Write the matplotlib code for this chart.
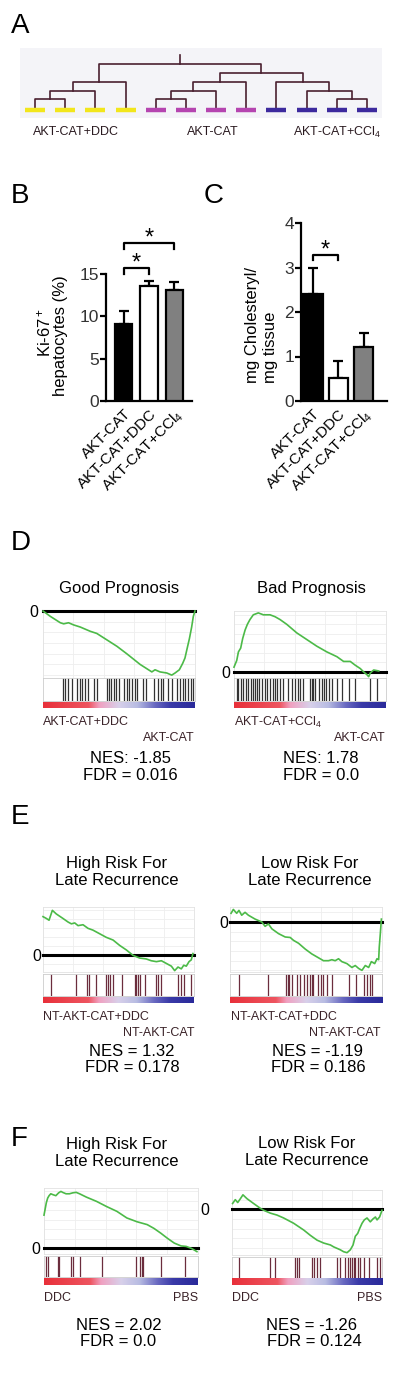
import numpy as np
import matplotlib
matplotlib.use("Agg")
import matplotlib.pyplot as plt
from matplotlib.colors import LinearSegmentedColormap
from matplotlib.ticker import MultipleLocator
from matplotlib.patches import Rectangle

plt.rcParams['font.family'] = ['Liberation Sans', 'DejaVu Sans']
plt.rcParams['mathtext.fontset'] = 'custom'
plt.rcParams['mathtext.rm'] = 'Liberation Sans'
plt.rcParams['mathtext.it'] = 'Liberation Sans:italic'
plt.rcParams['mathtext.bf'] = 'Liberation Sans:bold'

# ---------------- DATA ----------------
# Panel A: hierarchical clustering (leaves 0..11, new nodes numbered from 12)
leaf_group = ['AKT-CAT+DDC'] * 4 + ['AKT-CAT'] * 4 + ['AKT-CAT+CCl$_4$'] * 4
group_names = ['AKT-CAT+DDC', 'AKT-CAT', 'AKT-CAT+CCl$_4$']
merges = [(0, 1, 1.1), (12, 2, 1.9), (13, 3, 2.8),
          (4, 5, 1.1), (15, 6, 1.9), (16, 7, 2.8),
          (10, 11, 1.1), (9, 18, 1.9), (8, 19, 2.8),
          (17, 20, 3.7), (14, 21, 4.6)]

# Panel B / C: bar charts
bar_groups = ['AKT-CAT', 'AKT-CAT+DDC', 'AKT-CAT+CCl$_4$']
ki67_mean = [9.1, 13.6, 13.1]
ki67_sem = [1.5, 0.6, 1.0]
ki67_sig = [(0, 1), (0, 2)]
chol_mean = [2.4, 0.52, 1.22]
chol_sem = [0.6, 0.38, 0.31]
chol_sig = [(0, 1)]

# Panel D: Good prognosis (AKT-CAT+DDC vs AKT-CAT)
gp_rank = [0, 4.8, 11.4, 13.6, 16.8, 20.1, 24.5, 27.8, 31.1, 35.4, 42.0, 48.6, 55.1, 59.5, 63.9,
           68.3, 71.6, 73.7, 77.0, 81.4, 84.7, 86.9, 89.7, 91.9, 93.4, 95.0, 96.3, 97.8, 98.9, 100]
gp_es = [0, -0.05, -0.11, -0.12, -0.11, -0.13, -0.15, -0.17, -0.19, -0.21, -0.27, -0.33, -0.40, -0.45,
         -0.50, -0.54, -0.57, -0.55, -0.57, -0.58, -0.60, -0.58, -0.55, -0.49, -0.44, -0.34, -0.26,
         -0.15, -0.05, 0]
gp_hits = [13.1, 14.7, 16.2, 19.0, 22.3, 24.1, 25.6, 27.8, 29.3, 33.3, 35.4, 42.0, 43.1, 44.6, 46.4,
           48.1, 49.7, 53.4, 55.1, 56.9, 58.4, 60.6, 61.7, 66.1, 67.8, 73.1, 75.9, 77.5, 79.2, 82.5,
           84.7, 88.0, 90.2, 91.9, 93.4, 95.6, 97.2, 98.5]

# Panel D: Bad prognosis (AKT-CAT+CCl4 vs AKT-CAT)
bp_rank = [0, 1.8, 2.9, 4.4, 5.7, 7.3, 8.8, 10.5, 12.7, 16.0, 19.3, 23.7, 27.0, 30.3, 34.7, 41.3,
           47.9, 54.5, 61.1, 67.7, 72.1, 76.5, 79.8, 83.1, 85.3, 87.5, 88.6, 89.7, 91.9, 95.2]
bp_es = [0.05, 0.12, 0.21, 0.25, 0.35, 0.44, 0.50, 0.55, 0.60, 0.62, 0.60, 0.60, 0.58, 0.55, 0.50,
         0.41, 0.34, 0.27, 0.21, 0.16, 0.11, 0.11, 0.07, 0.035, 0.0, -0.03, -0.05, -0.01, 0.02, 0.01]
bp_hits = [1.8, 2.9, 4.4, 6.2, 7.9, 9.5, 11.0, 12.3, 13.8, 15.4, 16.7, 18.2, 20.4, 21.5, 23.7, 25.5,
           27.0, 28.6, 30.3, 32.5, 35.8, 38.0, 40.2, 42.4, 43.5, 45.7, 50.1, 51.2, 52.3, 53.4, 55.6,
           57.8, 58.9, 60.7, 62.2, 64.4, 67.7, 71.0, 75.4, 79.8, 89.2, 94.1]

# Panel E: High risk for late recurrence (NT-AKT-CAT+DDC vs NT-AKT-CAT)
eh_rank = [0, 2.2, 4.0, 6.2, 8.8, 13.2, 16.6, 18.8, 21.0, 23.2, 26.5, 29.8, 33.1, 37.5, 41.9, 46.4,
           50.8, 55.2, 59.6, 64.0, 68.4, 71.7, 75.1, 78.4, 81.7, 85.0, 87.2, 89.4, 91.6, 93.2, 94.9,
           96.7, 98.2, 99.3]
eh_es = [0.43, 0.41, 0.39, 0.50, 0.46, 0.41, 0.37, 0.35, 0.36, 0.33, 0.34, 0.30, 0.28, 0.24, 0.20,
         0.17, 0.11, 0.06, 0.0, -0.03, -0.04, -0.06, -0.07, -0.06, -0.09, -0.12, -0.17, -0.13, -0.15,
         -0.11, -0.12, -0.07, -0.05, 0.02]
eh_hits = [5.5, 22.1, 29.1, 30.5, 35.3, 41.9, 43.0, 44.2, 46.4, 52.5, 60.7, 61.8, 62.9, 64.5, 67.3,
           74.6, 76.2, 78.4, 89.4, 91.6, 93.2, 98.2]

# Panel E: Low risk for late recurrence
el_rank = [0.7, 2.2, 4.4, 5.9, 7.7, 9.9, 12.1, 16.5, 20.9, 23.1, 25.3, 27.5, 31.9, 36.3, 39.6, 41.8,
           45.1, 49.5, 53.8, 58.2, 61.5, 64.8, 67.0, 69.2, 71.4, 73.6, 76.9, 80.2, 82.4, 84.6, 86.8,
           89.0, 91.2, 93.0, 95.2, 96.7, 97.8, 98.2, 98.9, 99.6]
el_es = [0.09, 0.13, 0.09, 0.12, 0.07, 0.10, 0.07, 0.03, 0.0, -0.045, -0.02, -0.07, -0.12, -0.155,
         -0.16, -0.19, -0.22, -0.28, -0.33, -0.37, -0.40, -0.40, -0.39, -0.40, -0.38, -0.41, -0.43,
         -0.47, -0.45, -0.48, -0.50, -0.45, -0.47, -0.41, -0.43, -0.38, -0.39, -0.26, -0.12, 0.03]
el_hits = [5.9, 24.8, 36.7, 38.0, 38.9, 41.1, 44.0, 46.2, 48.4, 50.5, 52.7, 53.8, 54.9, 57.8, 60.0,
           61.5, 63.7, 67.0, 78.0, 82.9, 87.9, 90.1, 92.3, 93.4]

# Panel F: High risk for late recurrence (DDC vs PBS)
fh_rank = [0, 0.7, 1.5, 2.4, 3.3, 4.4, 5.9, 7.7, 9.5, 11.0, 12.1, 14.3, 16.5, 18.7, 20.9, 23.1, 27.5,
           34.1, 40.7, 47.3, 53.8, 60.4, 67.0, 71.4, 75.8, 80.2, 84.6, 89.0, 92.3, 95.6, 97.8, 99.3]
fh_es = [0.35, 0.41, 0.48, 0.53, 0.555, 0.575, 0.565, 0.555, 0.585, 0.60, 0.59, 0.575, 0.575, 0.585,
         0.59, 0.575, 0.54, 0.495, 0.44, 0.39, 0.32, 0.28, 0.25, 0.21, 0.16, 0.105, 0.055, 0.025,
         0.02, 0.0, -0.02, -0.035]
fh_hits = [1.5, 2.6, 8.8, 9.9, 17.6, 18.7, 23.1, 37.4, 60.0, 62.6, 63.7, 64.4, 75.8, 91.6]

# Panel F: Low risk for late recurrence (DDC vs PBS)
fl_rank = [0.4, 2.2, 3.8, 5.6, 7.3, 10.0, 14.4, 18.9, 21.1, 25.6, 30.0, 34.4, 41.1, 47.8, 52.2, 56.7,
           61.1, 65.6, 67.8, 70.0, 72.2, 74.4, 76.7, 78.9, 80.7, 82.2, 83.8, 85.1, 86.7, 88.2, 90.0,
           92.2, 94.0, 95.6, 96.7, 98.4, 100]
fl_es = [0.06, 0.10, 0.07, 0.11, 0.15, 0.11, 0.06, 0.01, -0.01, -0.04, -0.06, -0.09, -0.145, -0.215,
         -0.27, -0.32, -0.35, -0.37, -0.39, -0.405, -0.42, -0.44, -0.45, -0.42, -0.37, -0.28, -0.25,
         -0.20, -0.145, -0.11, -0.09, -0.13, -0.10, -0.08, -0.11, -0.08, -0.01]
fl_hits = [4.4, 25.6, 28.9, 42.2, 43.3, 44.4, 53.3, 54.9, 56.7, 58.4, 70.0, 72.2, 75.6, 77.1, 78.4,
           80.0, 81.1, 82.2, 83.8, 85.6, 87.8, 91.1, 96.7, 98.9]

# ---------------- FIGURE ----------------
W, H = 400, 1382
fig = plt.figure(figsize=(W / 100, H / 100), dpi=100)


def add_ax(x0, y0, x1, y1):
    return fig.add_axes([x0 / W, 1 - y1 / H, (x1 - x0) / W, (y1 - y0) / H])


def put(x, y, s, size=9, ha='center', va='center', **kw):
    fig.text(x / W, 1 - y / H, s, fontsize=size, ha=ha, va=va, **kw)


for letter, (lx, ly) in {'A': (11, 26), 'B': (11, 196), 'C': (204, 196),
                         'D': (11, 543), 'E': (11, 817), 'F': (11, 1139)}.items():
    put(lx, ly, letter, size=20, ha='left')

# ---- Panel A ----
group_color = {'AKT-CAT+DDC': '#f2e61c', 'AKT-CAT': '#b545b0', 'AKT-CAT+CCl$_4$': '#3d2a9e'}
label_x = [1.35, 5.9, 10.0]
axA = add_ax(20, 48, 382, 140)
axA.set_xlim(-0.5, 11.5)
axA.set_ylim(-3.0, 6.2)
axA.axis('off')
axA.add_patch(Rectangle((-0.5, -0.8), 12, 7.0, color='#f4f4f8', zorder=0, lw=0))
n_leaf = len(leaf_group)
pos = {i: float(i) for i in range(n_leaf)}
hgt = {i: 0.0 for i in range(n_leaf)}
for k, (a, b, h) in enumerate(merges):
    axA.plot([pos[a], pos[a], pos[b], pos[b]], [hgt[a], h, h, hgt[b]],
             color='#4a2030', lw=1.2, zorder=2)
    pos[n_leaf + k] = (pos[a] + pos[b]) / 2
    hgt[n_leaf + k] = h
root = n_leaf + len(merges) - 1
axA.plot([pos[root]] * 2, [hgt[root], hgt[root] + 0.9], color='#4a2030', lw=1.2)
for i, g in enumerate(leaf_group):
    axA.plot([i - 0.33, i + 0.33], [0, 0], color=group_color[g], lw=3.2,
             solid_capstyle='butt', zorder=3)
for g, lxv in zip(group_names, label_x):
    axA.text(lxv, -2.2, g, ha='center', va='center', fontsize=9, color='#2a1a20')


# ---- Panels B and C ----
def bar_panel(ax, means, errs, width, ylim, yticks, sig, sig_levels, drop):
    xs = np.arange(len(means))
    ax.bar(xs, means, width=width, color=['black', 'white', '#808080'],
           edgecolor='black', linewidth=1.6, zorder=3)
    ax.errorbar(xs, means, yerr=[np.zeros(len(errs)), errs], fmt='none', ecolor='black',
                elinewidth=1.6, capsize=3.5, capthick=1.6, zorder=2)
    ax.set_ylim(*ylim)
    ax.set_yticks(yticks)
    ax.set_xticks(xs)
    ax.set_xticklabels(bar_groups, rotation=45, ha='right', rotation_mode='anchor', fontsize=11)
    ax.tick_params(axis='x', length=0, pad=4)
    ax.tick_params(axis='y', length=4, width=1.6, labelsize=12.5, labelcolor='#333333', pad=1)
    for s in ['top', 'right']:
        ax.spines[s].set_visible(False)
    for s in ['left', 'bottom']:
        ax.spines[s].set_linewidth(1.6)
    for (i, j), yl in zip(sig, sig_levels):
        ax.plot([i, i, j, j], [yl - drop, yl, yl, yl - drop], color='black', lw=1.6,
                clip_on=False)
        ax.annotate('*', xy=((i + j) / 2, yl), xytext=(0, 3), textcoords='offset points',
                    ha='center', va='center', fontsize=17, annotation_clip=False)


axB = add_ax(106, 274, 192, 401)
axB.set_xlim(-0.69, 2.69)
bar_panel(axB, ki67_mean, ki67_sem, 0.68, (0, 15), [0, 5, 10, 15], ki67_sig, [15.7, 18.65], 0.75)
put(44, 332, 'Ki-67$^+$', size=12, rotation=90)
put(61, 336, 'hepatocytes (%)', size=12, rotation=90)

axC = add_ax(301, 223, 387, 401)
axC.set_xlim(-0.47, 2.92)
bar_panel(axC, chol_mean, chol_sem, 0.76, (0, 4), [0, 1, 2, 3, 4], chol_sig, [3.28], 0.12)
put(253, 383, 'mg Cholesteryl/', size=12, rotation=90, va='bottom')
put(270, 383, 'mg tissue', size=12, rotation=90, va='bottom')

# ---- GSEA panels ----
rank_cmap = LinearSegmentedColormap.from_list(
    'rank', [(0, '#e8303a'), (0.3, '#ee5560'), (0.37, '#f0a0c0'), (0.5, '#d8d0ea'),
             (0.62, '#b8bce2'), (0.74, '#6868c0'), (0.84, '#3a3aa8'), (1, '#2a2a9a')])


def draw_gsea(x0, x1, es_y, bc_y, cb_y, ranks, es, ylim, hits, hit_color, zero_pad):
    ax = add_ax(x0, es_y[0], x1, es_y[1])
    ax.set_xlim(0, 100)
    ax.set_ylim(*ylim)
    ax.xaxis.set_minor_locator(MultipleLocator(20))
    ax.yaxis.set_minor_locator(MultipleLocator(0.1))
    ax.set_xticks([])
    ax.set_yticks([0])
    ax.set_yticklabels(['0'], fontsize=11.5)
    ax.grid(which='minor', color='#eeeeee', lw=0.6)
    ax.tick_params(which='both', length=0)
    ax.tick_params(axis='y', pad=zero_pad)
    for s in ax.spines.values():
        s.set_color('#e2e2e2')
        s.set_linewidth(0.6)
    ax.axhline(0, color='black', lw=2.2, clip_on=False, zorder=3)
    ax.plot(ranks, es, color='#4cba48', lw=1.2, zorder=4, clip_on=False)
    bc = add_ax(x0, bc_y[0], x1, bc_y[1])
    bc.set_xlim(0, 100)
    bc.set_ylim(0, 1)
    bc.vlines(hits, 0, 1, color=hit_color, lw=0.9)
    bc.set_xticks([])
    bc.set_yticks([])
    for s in bc.spines.values():
        s.set_color('#cccccc')
        s.set_linewidth(0.6)
    cb = add_ax(x0, cb_y[0], x1, cb_y[1])
    cb.imshow(np.linspace(0, 1, 256)[None, :], cmap=rank_cmap, aspect='auto',
              extent=[0, 100, 0, 1])
    cb.axis('off')


lab_col = '#3a2228'
# D
draw_gsea(43, 195, (611, 678), (678, 701), (702, 708), gp_rank, gp_es, (-0.627, 0.0),
          gp_hits, '#333333', 3.5)
draw_gsea(234, 386, (611, 678), (678, 701), (702, 708), bp_rank, bp_es, (-0.064, 0.64),
          bp_hits, '#333333', 3)
put(119, 589, 'Good Prognosis', size=12)
put(311, 589, 'Bad Prognosis', size=12)
put(43, 722, 'AKT-CAT+DDC', ha='left', color=lab_col)
put(195, 738, 'AKT-CAT', ha='right', color=lab_col)
put(234, 722, 'AKT-CAT+CCl$_4$', ha='left', color=lab_col)
put(386, 738, 'AKT-CAT', ha='right', color=lab_col)
put(130, 758, 'NES: -1.85', size=12)
put(130, 775, 'FDR = 0.016', size=12)
put(321, 758, 'NES: 1.78', size=12)
put(321, 775, 'FDR = 0.0', size=12)

# E
draw_gsea(43, 194, (907, 972), (974, 996), (997, 1003), eh_rank, eh_es, (-0.185, 0.537),
          eh_hits, '#6b2d3d', 1.5)
draw_gsea(230, 382, (907, 972), (974, 996), (997, 1003), el_rank, el_es, (-0.517, 0.155),
          el_hits, '#6b2d3d', 1.5)
put(117, 872, 'High Risk For\nLate Recurrence', size=12, linespacing=1.12)
put(310, 872, 'Low Risk For\nLate Recurrence', size=12, linespacing=1.12)
put(43, 1017, 'NT-AKT-CAT+DDC', ha='left', color=lab_col)
put(195, 1033, 'NT-AKT-CAT', ha='right', color=lab_col)
put(231, 1017, 'NT-AKT-CAT+DDC', ha='left', color=lab_col)
put(381, 1033, 'NT-AKT-CAT', ha='right', color=lab_col)
put(132, 1052, 'NES = 1.32', size=12)
put(132, 1068, 'FDR = 0.178', size=12)
put(317, 1052, 'NES = -1.19', size=12)
put(318, 1068, 'FDR = 0.186', size=12)

# F
draw_gsea(44, 198, (1188, 1254), (1256, 1277), (1278, 1285), fh_rank, fh_es, (-0.06, 0.636),
          fh_hits, '#6b2d3d', 3)
draw_gsea(232, 382, (1190, 1255), (1257, 1278), (1278, 1285), fl_rank, fl_es, (-0.474, 0.2),
          fl_hits, '#6b2d3d', 16.5)
put(117, 1153, 'High Risk For\nLate Recurrence', size=12, linespacing=1.12)
put(307, 1152, 'Low Risk For\nLate Recurrence', size=12, linespacing=1.12)
put(44, 1298, 'DDC', ha='left', color=lab_col)
put(198, 1298, 'PBS', ha='right', color=lab_col)
put(232, 1298, 'DDC', ha='left', color=lab_col)
put(382, 1298, 'PBS', ha='right', color=lab_col)
put(119, 1325, 'NES = 2.02', size=12)
put(118, 1341, 'FDR = 0.0', size=12)
put(312, 1325, 'NES = -1.26', size=12)
put(314, 1341, 'FDR = 0.124', size=12)

fig.savefig('out.png', dpi=100)
